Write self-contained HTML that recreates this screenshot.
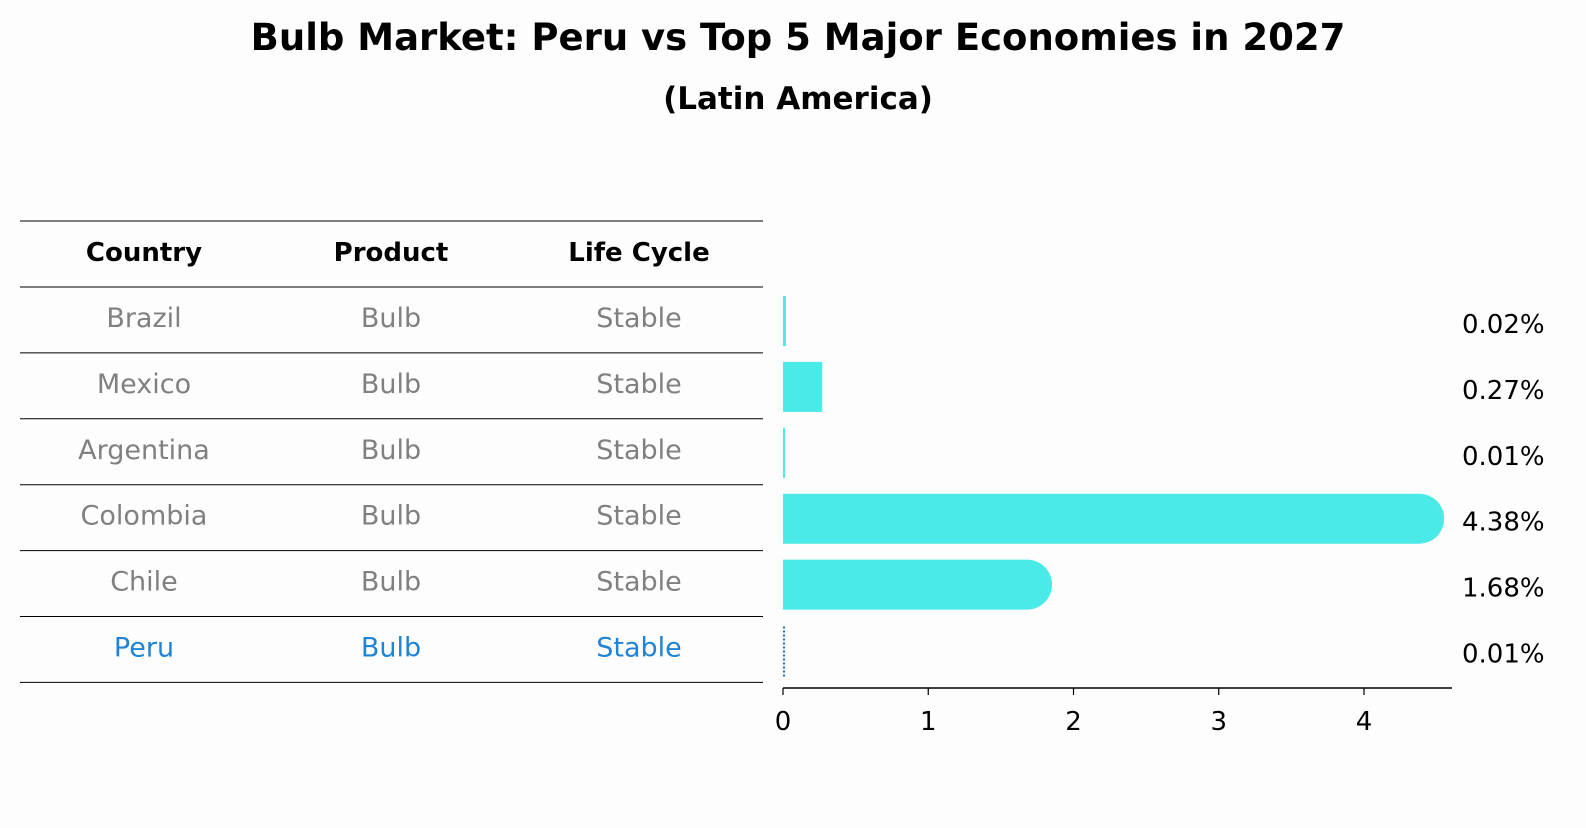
<!DOCTYPE html>
<html><head><meta charset="utf-8"><style>
body{margin:0;background:#fdfdfd;}
svg text{font-family:"DejaVu Sans","Liberation Sans",sans-serif;}
</style></head><body>
<svg width="1586" height="823" xmlns="http://www.w3.org/2000/svg">
<rect width="1586" height="823" fill="#fdfdfd"/>
<text x="798" y="50" text-anchor="middle" font-size="37" font-weight="bold">Bulb Market: Peru vs Top 5 Major Economies in 2027</text>
<text x="798" y="109" text-anchor="middle" font-size="31" font-weight="bold">(Latin America)</text>
<g id="table"></g>
<g id="bars"></g>
</svg>
<script>
const countries=["Brazil","Mexico","Argentina","Colombia","Chile","Peru"];
const products=["Bulb","Bulb","Bulb","Bulb","Bulb","Bulb"];
const lifecycle=["Stable","Stable","Stable","Stable","Stable","Stable"];
const values=[0.02,0.27,0.01,4.38,1.68,0.01];
const valueLabels=["0.02%","0.27%","0.01%","4.38%","1.68%","0.01%"];
const ticks=[0,1,2,3,4];
const NS="http://www.w3.org/2000/svg";
function mk(tag,attrs,parent,text){const e=document.createElementNS(NS,tag);for(const k in attrs)e.setAttribute(k,attrs[k]);if(text!==undefined)e.textContent=text;parent.appendChild(e);return e;}
const x=v=>783+v*145.25;
const rowY=i=>287+i*65.9;
const tbl=document.getElementById('table');
const lineYs=[221,287];
for(let i=1;i<=6;i++)lineYs.push(287+i*65.9);
lineYs.forEach((y,i)=>{const l=mk('line',{x1:20,x2:763,y1:y,y2:y,stroke:'#000','stroke-width':1},tbl);

});
const colX=[144,391,639];
["Country","Product","Life Cycle"].forEach((h,j)=>{const t=mk('text',{x:colX[j],y:261,'text-anchor':'middle','font-size':26,'font-weight':'bold'},tbl,h);

});
countries.forEach((c,i)=>{
 const col=c==="Peru"?"#1f84d6":"#808080";
 [c,products[i],lifecycle[i]].forEach((v,j)=>{
  const t=mk('text',{x:colX[j],y:rowY(i)+40,'text-anchor':'middle','font-size':27,fill:col},tbl,v);
  
  
 });
});
const g=document.getElementById('bars');
values.forEach((v,i)=>{
 const y0=rowY(i)+9,h=50,xe=x(v),w=xe-783;
 let el;
 if(countries[i]==="Peru"){
  el=mk('line',{x1:784,x2:784,y1:y0+1,y2:y0+h+3,stroke:'#1f6fb5','stroke-width':2,'stroke-dasharray':'2,2'},g);
 }else if(w>50){
  const r=25;
  el=mk('path',{d:`M783 ${y0}H${xe}A${r} ${r} 0 0 1 ${xe} ${y0+h}H783Z`,fill:'#4aeae8'},g);
 }else{
  el=mk('rect',{x:783,y:y0,width:Math.max(w,2),height:h,fill:'#4aeae8'},g);
 }
 
 
 const t=mk('text',{x:1462,y:y0+37,'font-size':26},g,valueLabels[i]);
 
 
});
const ax=mk('line',{x1:783,x2:1452,y1:688,y2:688,stroke:'#000','stroke-width':1.5},g);


ticks.forEach(t=>{
 const tk=mk('line',{x1:x(t),x2:x(t),y1:688,y2:695,stroke:'#000','stroke-width':1.2},g);
 
 
 const tl=mk('text',{x:x(t),y:730,'text-anchor':'middle','font-size':26},g,String(t));
 
 
});
</script>
</body></html>
